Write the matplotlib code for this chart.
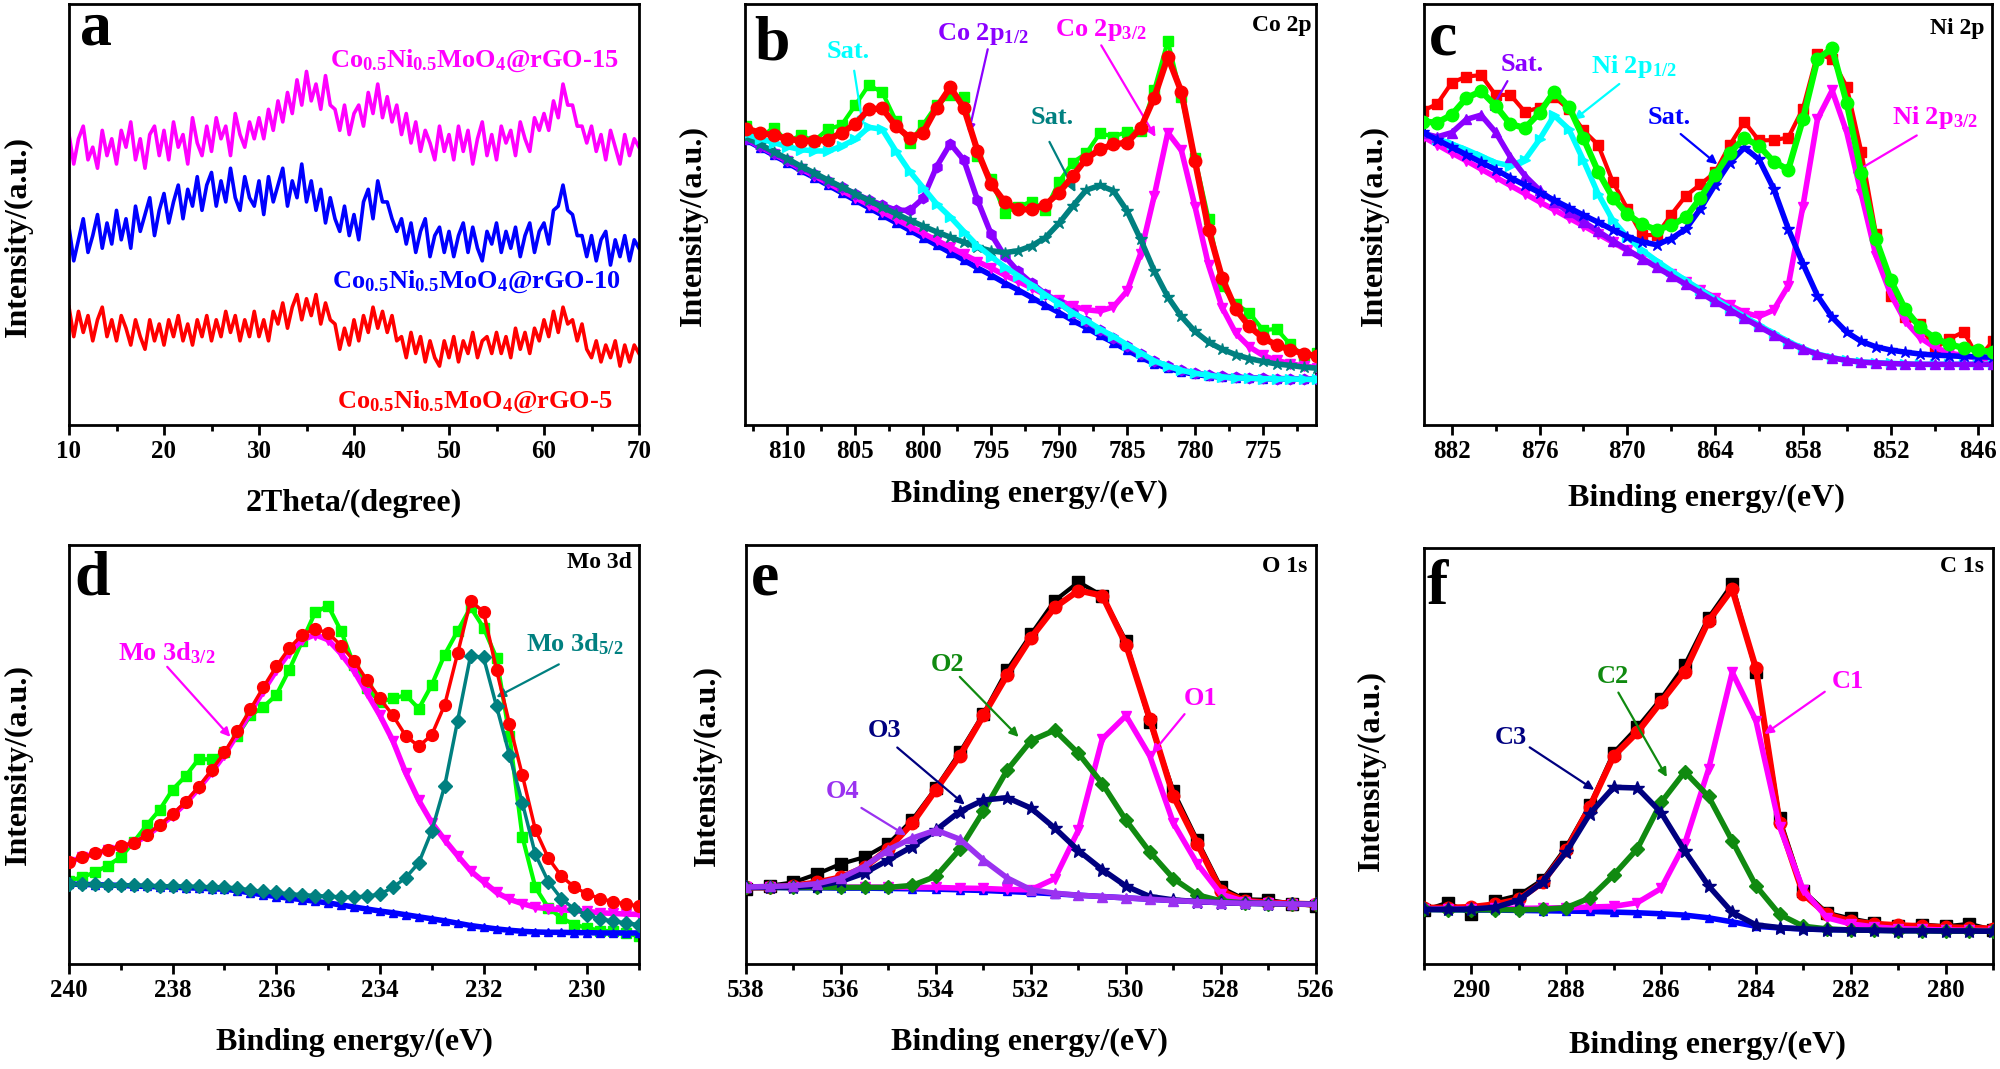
import matplotlib.pyplot as plt
import numpy as np
from matplotlib.ticker import MultipleLocator

plt.rcParams['font.family'] = ['Liberation Serif', 'DejaVu Serif']
plt.rcParams['font.weight'] = 'bold'
plt.rcParams['mathtext.fontset'] = 'custom'
plt.rcParams['mathtext.rm'] = 'Liberation Serif:bold'
plt.rcParams['mathtext.it'] = 'Liberation Serif:bold'
plt.rcParams['mathtext.bf'] = 'Liberation Serif:bold'
plt.rcParams['axes.linewidth'] = 2

# colores
MAG = '#ff00ff'
BLU = '#0000ff'
RED = '#ff0000'
LIME = '#00ff00'
CYAN = '#00ffff'
VIO = '#8b00ff'
TEAL = '#008080'
DKG = '#108a10'
NAVY = '#000080'
PURP = '#9a32f0'

# ---------------- a: XRD ----------------
two_theta = np.arange(10, 70.01, 0.5)
xrd_15 = [69, 62, 68, 71, 63, 66, 61, 70, 64, 68,
          62, 70, 66, 72, 63, 68, 61, 69, 71, 64,
          70, 63, 72, 66, 69, 62, 73, 67, 64, 71,
          65, 73, 68, 71, 64, 74, 69, 66, 72, 68,
          73, 68, 75, 70, 77, 72, 79, 74, 82, 76,
          84, 77, 81, 75, 83, 76, 75, 70, 76, 69,
          74, 76, 71, 79, 74, 81, 73, 78, 72, 76,
          69, 74, 67, 72, 65, 70, 67, 63, 71, 65,
          69, 63, 71, 65, 70, 62, 68, 72, 64, 69,
          63, 71, 67, 70, 64, 72, 68, 65, 73, 70,
          74, 70, 77, 73, 81, 76, 76, 71, 71, 67,
          71, 65, 69, 63, 70, 66, 62, 69, 64, 68,
          66]
xrd_10 = [47, 39, 44, 49, 41, 45, 50, 42, 48, 43,
          51, 44, 49, 42, 52, 46, 50, 54, 45, 51,
          55, 48, 53, 57, 49, 56, 52, 59, 51, 57,
          60, 52, 58, 53, 61, 54, 51, 59, 54, 52,
          58, 50, 59, 53, 57, 61, 52, 58, 54, 62,
          53, 58, 51, 56, 48, 54, 49, 46, 52, 45,
          50, 44, 53, 56, 49, 58, 53, 53, 49, 46,
          49, 43, 48, 41, 46, 49, 40, 45, 47, 41,
          46, 40, 45, 48, 41, 47, 42, 39, 46, 43,
          48, 41, 46, 42, 47, 40, 45, 48, 41, 46,
          48, 43, 51, 52, 57, 51, 50, 45, 45, 40,
          45, 39, 44, 46, 38, 44, 40, 45, 39, 44,
          42]
xrd_5 = [28, 21, 27, 22, 26, 20, 25, 28, 21, 25,
         20, 26, 23, 19, 25, 21, 18, 25, 20, 24,
         19, 25, 21, 26, 20, 24, 19, 25, 21, 26,
         20, 25, 21, 27, 22, 26, 20, 25, 21, 27,
         21, 25, 20, 27, 24, 29, 23, 28, 31, 25,
         30, 26, 31, 24, 29, 25, 24, 18, 23, 19,
         25, 20, 26, 22, 28, 23, 27, 22, 26, 20,
         21, 16, 22, 17, 21, 15, 20, 16, 14, 20,
         16, 21, 15, 20, 17, 22, 16, 20, 21, 17,
         22, 17, 21, 16, 23, 18, 22, 17, 23, 20,
         25, 21, 27, 22, 28, 24, 25, 20, 24, 18,
         16, 20, 15, 19, 16, 20, 14, 19, 15, 19,
         17]

# ---------------- b: Co 2p ----------------
be_co = np.arange(813, 770, -1)
co_bg = [798, 777, 756, 735, 713, 693, 672, 651, 630, 609, 588, 567, 546, 525, 504,
         483, 462, 440, 420, 398, 378, 357, 335, 315, 293, 273, 251, 231, 210, 190,
         172, 159, 149, 142, 137, 134, 132, 131, 130, 129, 129, 128, 128]
co_sat1 = [17, 25, 35, 45, 58, 75, 95, 130, 170, 225, 240, 200, 165, 140, 115,
           100, 80, 62, 52, 45, 40, 35, 30, 26, 22, 20, 18, 17, 15, 12,
           8, 6, 4, 3, 2, 1, 0, 0, 0, 0, 0, 0, 0]
co_2p12 = [4, 5, 6, 7, 8, 10, 12, 15, 18, 22, 28, 35, 55, 110, 220,
           305, 280, 190, 115, 75, 52, 40, 32, 26, 22, 18, 15, 13, 11, 9,
           7, 6, 5, 4, 3, 3, 2, 2, 1, 1, 1, 1, 1]
co_sat2 = [8, 9, 10, 11, 12, 13, 14, 16, 18, 20, 22, 25, 28, 32, 37,
           43, 50, 58, 68, 85, 110, 145, 190, 250, 320, 385, 420, 425, 390, 330,
           260, 200, 155, 120, 95, 78, 65, 55, 48, 42, 38, 34, 31]
co_2p32 = [3, 3, 4, 4, 5, 5, 6, 6, 7, 8, 9, 10, 11, 12, 13,
           15, 16, 18, 20, 22, 24, 27, 30, 34, 40, 50, 68, 100, 165, 290,
           470, 660, 620, 470, 310, 195, 125, 88, 65, 52, 43, 37, 33]
co_resid = [8, -15, 22, -8, 15, 0, 30, 22, 52, 68, 45, 15, -15, 22, 8,
            -22, 30, -15, 15, -30, 8, 22, -15, 30, 38, 15, 45, 22, 30, -8,
            22, 45, -15, 8, 30, -22, 15, 38, 22, 45, 15, -8, 8]

# ---------------- c: Ni 2p ----------------
be_ni = np.arange(884, 844, -1)
ni_bg = [805, 782, 759, 736, 713, 690, 666, 643, 620, 597, 574, 551, 528, 504, 481,
         458, 435, 412, 389, 366, 343, 320, 297, 274, 252, 230, 212, 197, 187, 180,
         176, 174, 172, 171, 170, 170, 170, 170, 170, 170]
ni_sat1 = [12, 25, 60, 120, 155, 130, 85, 55, 38, 28, 22, 18, 15, 12, 10,
           8, 7, 6, 5, 4, 3, 3, 2, 2, 1, 1, 1, 1, 1, 1,
           0, 0, 0, 0, 0, 0, 0, 0, 0, 0]
ni_2p12 = [15, 20, 28, 35, 40, 45, 60, 100, 180, 270, 255, 190, 120, 70, 45,
           32, 25, 20, 16, 13, 10, 8, 7, 6, 5, 4, 3, 2, 2, 1,
           1, 1, 1, 0, 0, 0, 0, 0, 0, 0]
ni_sat2 = [15, 17, 19, 21, 23, 25, 27, 29, 31, 33, 35, 37, 40, 43, 47,
           55, 70, 110, 160, 240, 330, 415, 480, 470, 410, 320, 240, 165, 115, 80,
           58, 45, 38, 33, 29, 26, 24, 22, 21, 20]
ni_2p32 = [3, 3, 3, 4, 4, 4, 5, 5, 5, 6, 6, 7, 7, 8, 8,
           9, 10, 11, 12, 13, 14, 16, 18, 30, 70, 160, 400, 660, 750, 640,
           470, 300, 195, 120, 75, 48, 32, 24, 18, 15]
ni_resid = [30, 52, 90, 60, 45, 30, 82, 45, 15, -15, -8, 22, 75, 45, 15,
            -30, -15, 30, 60, 38, 8, 22, 45, 15, 60, 90, 30, 15, -30, 45,
            60, 15, -45, -22, 8, -30, 15, 45, -22, 30]

# ---------------- d: Mo 3d ----------------
be_mo = np.arange(240, 228.9, -0.25)
mo_bg = [237, 236, 235, 234, 233, 231, 230, 229, 228, 226, 225, 223, 222, 217, 211,
         205, 200, 195, 191, 186, 181, 175, 169, 163, 157, 152, 146, 140, 134, 128,
         121, 114, 109, 104, 100, 97, 95, 94, 94, 93, 93, 92, 92, 92, 92]
mo_3d52 = [0, 0, 1, 1, 2, 2, 3, 3, 4, 5, 5, 6, 7, 8, 9,
           10, 12, 13, 15, 17, 20, 24, 30, 38, 50, 75, 110, 160, 260, 400,
           600, 800, 800, 660, 520, 380, 230, 150, 100, 70, 52, 42, 35, 30, 25]
mo_3d32 = [65, 80, 92, 104, 115, 126, 150, 180, 212, 250, 295, 345, 398, 465, 535,
           605, 670, 728, 770, 790, 780, 745, 700, 640, 580, 510, 420, 345, 285, 240,
           200, 162, 135, 108, 92, 82, 73, 70, 67, 65, 63, 60, 58, 56, 55]
mo_raw = [247, 257, 272, 292, 317, 362, 412, 457, 517, 557, 607, 607, 627, 677, 737,
          762, 797, 872, 957, 1042, 1062, 987, 887, 817, 777, 787, 797, 757, 827, 917,
          987, 1057, 997, 907, 677, 377, 227, 167, 137, 117, 107, 99, 97, 92, 82]

# ---------------- e: O 1s ----------------
be_o = np.arange(538, 525.9, -0.5)
o_bg = [227, 227, 226, 226, 225, 225, 224, 223, 222, 220, 218, 215, 212,
        208, 204, 200, 196, 192, 188, 185, 182, 180, 179, 178, 177]
o_fit = [227, 227, 232, 242, 257, 287, 342, 417, 517, 617, 737, 857, 967,
         1057, 1107, 1092, 947, 727, 497, 357, 217, 187, 182, 179, 177]
o_1 = [2, 2, 2, 3, 3, 3, 4, 4, 5, 5, 6, 6, 8, 45, 193, 467, 540, 425, 229, 112, 25, 5, 1, 0, 0]
o_2 = [0, 0, 1, 1, 2, 2, 3, 10, 38, 120, 235, 360, 450, 485, 420, 335, 230, 140, 65, 20, 5, 1, 0, 0, 0]
o_3 = [0, 1, 2, 6, 20, 45, 85, 125, 175, 232, 268, 278, 250, 195, 132, 80, 35, 8, 2, 0, 0, 0, 0, 0, 0]
o_4 = [1, 3, 6, 12, 30, 65, 115, 150, 175, 150, 90, 40, 8, 2, 0, 0, 0, 0, 0, 0, 0, 0, 0, 0, 0]
o_resid = [-5, 5, 10, 25, 40, 30, 15, 10, 5, 10, 5, 15, 10, 20, 25, 0, 10, -10, 15, 10, 10, 5, 8, 0, -5]

# ---------------- f: C 1s ----------------
be_c = np.arange(291, 278.9, -0.5)
c_bg = [162, 161, 160, 160, 159, 158, 157, 156, 154, 152, 149, 145, 137,
        125, 112, 107, 104, 102, 101, 100, 99, 99, 98, 98, 97]
c_fit = [167, 167, 169, 177, 192, 242, 337, 467, 617, 687, 777, 867, 1017,
         1112, 877, 417, 207, 147, 127, 119, 115, 112, 109, 107, 105]
c_1 = [2, 3, 4, 5, 6, 8, 10, 13, 17, 30, 75, 212, 440, 740, 610, 300, 115, 35, 18, 10, 6, 4, 3, 2, 2]
c_2 = [0, 0, 1, 1, 2, 4, 10, 40, 110, 190, 330, 425, 360, 240, 120, 40, 8, 2, 0, 0, 0, 0, 0, 0, 0]
c_3 = [0, 1, 3, 8, 30, 85, 175, 290, 370, 370, 300, 190, 95, 28, 4, 1, 0, 0, 0, 0, 0, 0, 0, 0, 0]
c_resid = [-8, 15, -20, 10, 12, 8, 10, 5, 10, 15, 10, 20, 10, 15, -10, 15, 10, 5, 8, 3, -2, 5, 3, 12, -3]


def estilo(ax, xlim, ylim, mayor, menor):
    ax.set_xlim(*xlim)
    ax.set_ylim(*ylim)
    ax.xaxis.set_major_locator(MultipleLocator(mayor))
    ax.xaxis.set_minor_locator(MultipleLocator(menor))
    ax.set_yticks([])
    ax.tick_params(axis='x', which='major', direction='out', length=7, width=2,
                   labelsize=18, pad=4)
    ax.tick_params(axis='x', which='minor', direction='out', length=4, width=2)


def textos(ax, letra, lpos, xlab, xpos, ypos, esquina=None, epos=None):
    ax.text(lpos[0], lpos[1], letra, transform=ax.transAxes, fontsize=46,
            ha='left', va='baseline')
    ax.text(xpos[0], xpos[1], xlab, transform=ax.transAxes, fontsize=23,
            ha='center', va='center')
    ax.text(ypos[0], ypos[1], 'Intensity/(a.u.)', transform=ax.transAxes, fontsize=23,
            ha='center', va='center', rotation=90)
    if esquina:
        ax.text(epos[0], epos[1], esquina, transform=ax.transAxes, fontsize=17,
                ha='right', va='center')


def curva(ax, x, y, color, marker, ms=7.5, lw=4, z=3):
    ax.plot(x, y, color=color, marker=marker, ms=ms, mec=color, mfc=color,
            lw=lw, zorder=z, solid_joinstyle='round')


def flecha(ax, texto, color, tpos, ini, fin, size=19):
    ax.text(tpos[0], tpos[1], texto, color=color, fontsize=size, ha='left', va='center')
    ax.annotate('', xy=fin, xytext=ini,
                arrowprops=dict(arrowstyle='-|>', color=color, lw=1.6, mutation_scale=13))


fig = plt.figure(figsize=(20, 10.69), dpi=100)
ax_a = fig.add_axes([0.0345, 0.6024, 0.285, 0.3938])
ax_b = fig.add_axes([0.3725, 0.6024, 0.2855, 0.3938])
ax_c = fig.add_axes([0.712, 0.6024, 0.284, 0.3938])
ax_d = fig.add_axes([0.0345, 0.0982, 0.285, 0.392])
ax_e = fig.add_axes([0.373, 0.0982, 0.285, 0.392])
ax_f = fig.add_axes([0.712, 0.0982, 0.2845, 0.389])

# a
ax_a.plot(two_theta, xrd_15, color=MAG, lw=2.6)
ax_a.plot(two_theta, xrd_10, color=BLU, lw=2.6)
ax_a.plot(two_theta, xrd_5, color=RED, lw=2.6)
estilo(ax_a, (10, 70), (0, 100), 10, 5)
textos(ax_a, 'a', (0.019, 0.903), '2Theta/(degree)', (0.5, -0.187), (-0.089, 0.447))
ax_a.text(67.8, 86.5, r'Co$_{0.5}$Ni$_{0.5}$MoO$_4$@rGO-15', color=MAG, fontsize=19,
          ha='right', va='center')
ax_a.text(68.0, 34.0, r'Co$_{0.5}$Ni$_{0.5}$MoO$_4$@rGO-10', color=BLU, fontsize=19,
          ha='right', va='center')
ax_a.text(67.2, 5.5, r'Co$_{0.5}$Ni$_{0.5}$MoO$_4$@rGO-5', color=RED, fontsize=19,
          ha='right', va='center')

# b
co_bg = np.array(co_bg)
co_env = co_bg + np.array(co_sat1) + np.array(co_2p12) + np.array(co_sat2) + np.array(co_2p32)
curva(ax_b, be_co, co_env + np.array(co_resid), LIME, 's', ms=7, lw=3, z=2)
curva(ax_b, be_co, co_bg, BLU, '^', ms=6, z=3)
curva(ax_b, be_co, co_bg + np.array(co_2p32), MAG, 'v', z=3)
curva(ax_b, be_co, co_bg + np.array(co_2p12), VIO, 'h', z=3)
curva(ax_b, be_co, co_bg + np.array(co_sat2), TEAL, '*', ms=9, z=3)
curva(ax_b, be_co, co_bg + np.array(co_sat1), CYAN, '>', z=3)
curva(ax_b, be_co, co_env, RED, 'o', ms=9, lw=4.5, z=4)
estilo(ax_b, (813.1, 771.1), (0, 1179), 5, 2.5)
textos(ax_b, 'b', (0.016, 0.869), 'Binding energy/(eV)', (0.499, -0.165), (-0.091, 0.475),
       'Co 2p', (0.993, 0.95))
flecha(ax_b, 'Sat.', CYAN, (807.1, 1045), (805.1, 1000), (804.4, 830))
flecha(ax_b, r'Co 2p$_{1/2}$', VIO, (799.0, 1095), (795.2, 1060), (796.7, 810))
flecha(ax_b, r'Co 2p$_{3/2}$', MAG, (790.3, 1105), (787.0, 1070), (782.8, 800))
flecha(ax_b, 'Sat.', TEAL, (792.1, 860), (790.8, 800), (788.7, 645))

# c
ni_bg = np.array(ni_bg)
ni_env = ni_bg + np.array(ni_sat1) + np.array(ni_2p12) + np.array(ni_sat2) + np.array(ni_2p32)
curva(ax_c, be_ni, ni_env + np.array(ni_resid), RED, 's', ms=7, lw=3, z=2)
curva(ax_c, be_ni, ni_bg + np.array(ni_2p32), MAG, 'v', z=3)
curva(ax_c, be_ni, ni_bg + np.array(ni_2p12), CYAN, '>', z=3)
curva(ax_c, be_ni, ni_bg + np.array(ni_sat1), VIO, '^', z=3)
curva(ax_c, be_ni, ni_bg + np.array(ni_sat2), BLU, '*', ms=9, z=3)
curva(ax_c, be_ni, ni_env, LIME, 'o', ms=9, lw=4.5, z=4)
estilo(ax_c, (883.9, 845.07), (0, 1179), 6, 3)
textos(ax_c, 'c', (0.009, 0.879), 'Binding energy/(eV)', (0.498, -0.174), (-0.088, 0.475),
       'Ni 2p', (0.987, 0.942))
flecha(ax_c, 'Sat.', VIO, (878.65, 1010), (878.1, 970), (879.5, 870))
flecha(ax_c, r'Ni 2p$_{1/2}$', CYAN, (872.5, 1005), (870.4, 960), (873.8, 850))
flecha(ax_c, 'Sat.', BLU, (868.6, 860), (866.5, 820), (863.7, 725))
flecha(ax_c, r'Ni 2p$_{3/2}$', MAG, (851.9, 860), (850.05, 815), (854.8, 700))

# d
mo_bg = np.array(mo_bg)
mo_env = mo_bg + np.array(mo_3d52) + np.array(mo_3d32)
curva(ax_d, be_mo, mo_raw, LIME, 's', ms=7, lw=3, z=2)
curva(ax_d, be_mo, mo_bg, BLU, '^', ms=6, z=3)
curva(ax_d, be_mo, mo_bg + np.array(mo_3d32), MAG, 'v', z=3)
curva(ax_d, be_mo, mo_env, RED, 'o', ms=8.5, lw=2.5, z=4)
curva(ax_d, be_mo, mo_bg + np.array(mo_3d52), TEAL, 'D', ms=7, lw=2.5, z=5)
estilo(ax_d, (240, 229), (0, 1242), 2, 1)
textos(ax_d, 'd', (0.009, 0.883), 'Binding energy/(eV)', (0.5, -0.188), (-0.089, 0.475),
       'Mo 3d', (0.987, 0.958))
flecha(ax_d, r'Mo 3d$_{3/2}$', MAG, (239.05, 922), (238.14, 887), (236.85, 667))
flecha(ax_d, r'Mo 3d$_{5/2}$', TEAL, (231.19, 947), (230.5, 892), (231.8, 787))

# e
o_bg = np.array(o_bg)
curva(ax_e, be_o, np.array(o_fit) + np.array(o_resid), 'black', 's', ms=8, lw=3, z=2)
curva(ax_e, be_o, o_fit, RED, 'o', ms=9, lw=4.5, z=3)
curva(ax_e, be_o, o_bg, BLU, '^', ms=6, z=4)
curva(ax_e, be_o, o_bg + np.array(o_1), MAG, 'v', z=4)
curva(ax_e, be_o, o_bg + np.array(o_2), DKG, 'D', z=4)
curva(ax_e, be_o, o_bg + np.array(o_3), NAVY, '*', ms=10, z=4)
curva(ax_e, be_o, o_bg + np.array(o_4), PURP, '^', z=5)
estilo(ax_e, (538, 526), (0, 1242), 2, 1)
textos(ax_e, 'e', (0.009, 0.883), 'Binding energy/(eV)', (0.498, -0.188), (-0.068, 0.473),
       'O 1s', (0.984, 0.9475))
flecha(ax_e, 'O1', MAG, (528.78, 787), (528.73, 747), (529.49, 617))
flecha(ax_e, 'O2', DKG, (534.11, 887), (533.54, 857), (532.22, 667))
flecha(ax_e, 'O3', NAVY, (535.43, 692), (534.86, 647), (533.35, 467))
flecha(ax_e, 'O4', PURP, (536.32, 512), (535.62, 467), (534.58, 377))

# f
c_bg = np.array(c_bg)
curva(ax_f, be_c, np.array(c_fit) + np.array(c_resid), 'black', 's', ms=8, lw=3, z=2)
curva(ax_f, be_c, c_fit, RED, 'o', ms=9, lw=4.5, z=3)
curva(ax_f, be_c, c_bg, BLU, '^', ms=6, z=4)
curva(ax_f, be_c, c_bg + np.array(c_1), MAG, 'v', z=4)
curva(ax_f, be_c, c_bg + np.array(c_2), DKG, 'D', z=4)
curva(ax_f, be_c, c_bg + np.array(c_3), NAVY, '*', ms=10, z=5)
estilo(ax_f, (291, 279), (0, 1233), 2, 1)
textos(ax_f, 'f', (0.005, 0.865), 'Binding energy/(eV)', (0.499, -0.197), (-0.092, 0.465),
       'C 1s', (0.985, 0.957))
flecha(ax_f, 'C1', MAG, (282.41, 837), (282.5, 812), (283.87, 677))
flecha(ax_f, 'C2', DKG, (287.36, 852), (286.93, 812), (285.85, 547))
flecha(ax_f, 'C3', NAVY, (289.51, 672), (288.82, 647), (287.36, 512))

fig.savefig('out.png', dpi=100)
